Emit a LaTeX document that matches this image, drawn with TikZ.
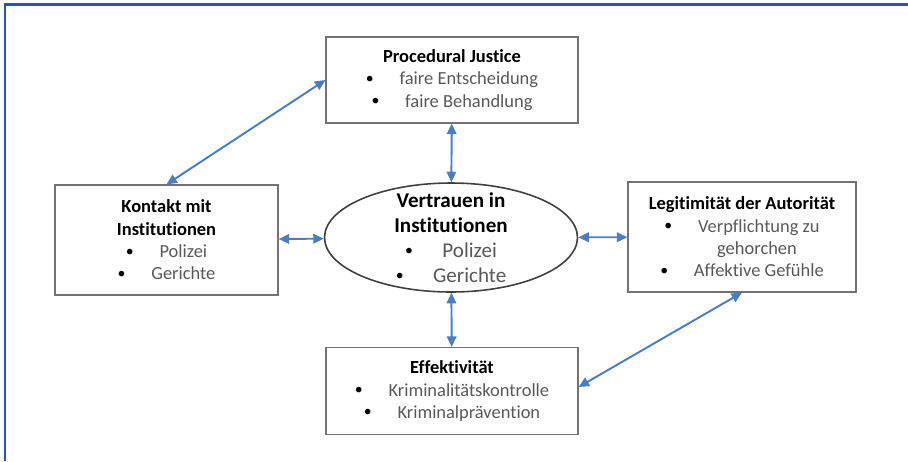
\documentclass[tikz,border=0pt]{standalone}
\usepackage{fontspec}
\setmainfont{Carlito}[Ligatures=NoCommon]
\usepackage{xcolor}
\usetikzlibrary{arrows.meta,shapes.geometric}
\definecolor{framebl}{HTML}{2E54A3}
\definecolor{arrbl}{HTML}{4A7EC4}
\definecolor{itemgr}{HTML}{595959}
\newcommand{\itm}[1]{\textcolor{black}{\raisebox{0.15ex}{\small\textbullet}}\hspace{1.4em}#1}

\begin{document}
\begin{tikzpicture}[x=0.02cm, y=-0.02cm, >={Triangle[length=2.1mm, width=1.9mm]}]
  \tikzset{box/.style={draw=black!55, line width=0.7pt, rectangle, align=center,
                       font=\fontsize{10.5}{12.7}\selectfont, text=itemgr, inner sep=0pt},
           link/.style={<->, arrbl, line width=1.1pt}}
  \useasboundingbox (0,0) rectangle (908,461);

  % page frame (only top and left edge visible)
  \draw[framebl, line width=1.7pt] (908,4) -- (5,4) -- (5,461);

  % centre
  \node[ellipse, draw=black!75, line width=0.9pt, minimum width=5.06cm,
        minimum height=2.18cm, inner sep=0pt] (V) at (451,237.5) {};
  \node[align=center, font=\fontsize{12}{14.2}\selectfont, text=itemgr, inner sep=0pt]
       (Vtxt) at (V.center)
       {\textcolor{black}{\bfseries Vertrauen in}\\\textcolor{black}{\bfseries Institutionen}\\\itm{Polizei}\\\itm{Gerichte}};

  % surrounding factors
  \node[box, minimum width=5.04cm, minimum height=1.72cm] (P) at (452,80)
       {\textcolor{black}{\bfseries Procedural Justice}\\\itm{faire Entscheidung}\\\itm{faire Behandlung}};
  \node[box, minimum width=4.46cm, minimum height=2.2cm] (K) at (166.5,240)
       {\textcolor{black}{\bfseries Kontakt mit}\\\textcolor{black}{\bfseries Institutionen}\\\itm{Polizei}\\\itm{Gerichte}};
  \node[box, minimum width=4.56cm, minimum height=2.2cm] (L) at (742,237)
       {\textcolor{black}{\bfseries Legitimität der Autorität}\\\itm{Verpflichtung zu}\\\phantom{\small\textbullet\hspace{1.4em}}gehorchen\\\itm{Affektive Gefühle}};
  \node[box, minimum width=5.04cm, minimum height=1.74cm] (E) at (452,391)
       {\textcolor{black}{\bfseries Effektivität}\\\itm{Kriminalitätskontrolle}\\\itm{Kriminalprävention}};

  % two-way links
  \draw[link] (K.north) -- (P.west);
  \draw[link] (P) -- (V);
  \draw[link] (K) -- (V);
  \draw[link] (V) -- (L);
  \draw[link] (V) -- (E);
  \draw[link] ([yshift=0.08cm]E.east) -- (L.south);
\end{tikzpicture}
\end{document}
